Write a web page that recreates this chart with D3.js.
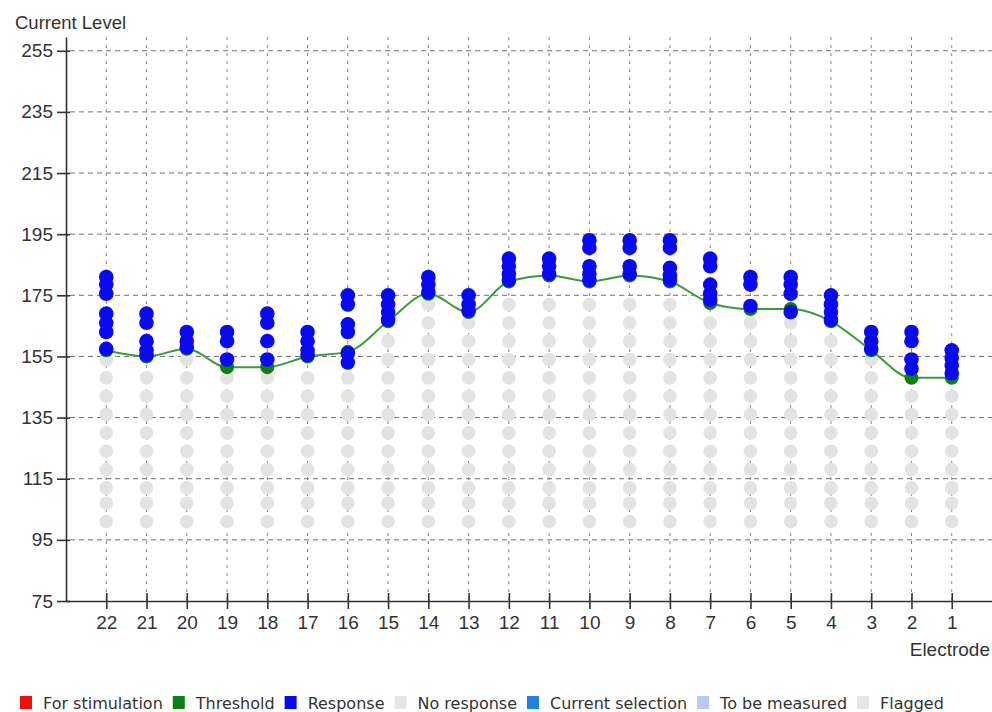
<!DOCTYPE html>
<html>
<head>
<meta charset="utf-8">
<script src="https://cdn.jsdelivr.net/npm/d3@7"></script>
<style>
  body { margin: 0; background: #fff; }
  svg { display: block; }
</style>
</head>
<body>
<div id="chart"></div>
<script>
// electrodes run 22 -> 1 from left to right
const ELECTRODES = [22, 21, 20, 19, 18, 17, 16, 15, 14, 13, 12, 11, 10, 9, 8, 7, 6, 5, 4, 3, 2, 1]
// threshold current level per electrode (green)
const THRESHOLDS = [157, 155, 157.5, 151.5, 151.5, 155, 156.5, 166.5, 175.5, 169.5, 179.5, 181.5, 179.5, 181.5, 179.5, 172.5, 170.5, 170.5, 166.5, 157, 148, 148]
// levels that gave a response (blue), same order as ELECTRODES
const RESPONSES = [
    [157.5, 163, 166, 169, 175.5, 178.5, 181],
    [155.5, 157, 160, 166, 169],
    [158, 160, 163],
    [154, 160, 163],
    [154, 160, 166, 169],
    [155.5, 157, 160, 163],
    [153, 156, 163, 165.5, 172, 175],
    [167, 169.5, 172, 175],
    [176, 178.5, 181],
    [170, 172, 175],
    [180, 182, 184.5, 187],
    [182, 184.5, 187],
    [180, 182, 184.5, 190.5, 193],
    [182, 184.5, 190.5, 193],
    [180, 181.5, 184, 190.5, 193],
    [173.5, 175.5, 178.5, 184.5, 187],
    [171.5, 178.5, 181],
    [169.5, 175.5, 178.5, 181],
    [167, 169.5, 172, 175],
    [157.5, 160, 163],
    [151, 154, 160, 163],
    [149.5, 152, 154.5, 157]
]
// levels stepped through without response (light grey), shown below each threshold
const NO_RESPONSE_LEVELS = [101, 107, 112, 118, 124, 130, 136, 142, 148, 154, 160, 166, 172]
const Y_TICKS = [75, 95, 115, 135, 155, 175, 195, 215, 235, 255]
const LEGEND = [
    { label: "For stimulation", color: "#f20d0d" },
    { label: "Threshold", color: "#0f7f14" },
    { label: "Response", color: "#0a0af0" },
    { label: "No response", color: "#e6e6e6" },
    { label: "Current selection", color: "#1f82e0" },
    { label: "To be measured", color: "#b4ccf0" },
    { label: "Flagged", color: "#e6e6e6" }
]

const width = 992, height = 712
const axisFont = "'Liberation Sans', Arial, sans-serif"

const svg = d3.select("#chart").append("svg")
    .attr("width", width)
    .attr("height", height)

const x = d3.scalePoint()
    .domain(ELECTRODES)
    .range([66, 992])
    .padding(1)

const y = d3.scaleLinear()
    .domain([75, 259.5])
    .range([601, 37])

// grid
const grid = svg.append("g")
grid.selectAll(".hgrid")
    .data(Y_TICKS.filter(d => d !== 75))
    .enter().append("line")
    .attr("x1", 70).attr("x2", width)
    .attr("y1", d => y(d)).attr("y2", d => y(d))
    .attr("stroke", "#707070")
    .attr("stroke-dasharray", "5,4")
grid.selectAll(".vgrid")
    .data(ELECTRODES)
    .enter().append("line")
    .attr("x1", d => x(d)).attr("x2", d => x(d))
    .attr("y1", y(259.5)).attr("y2", y(75))
    .attr("stroke", "#858585")
    .attr("stroke-dasharray", "3,5")

const rows = ELECTRODES.map((e, i) => ({
    electrode: e,
    threshold: THRESHOLDS[i],
    responses: RESPONSES[i],
    none: NO_RESPONSE_LEVELS.filter(l => l <= THRESHOLDS[i] - 3)
}))

// no response dots
svg.append("g").selectAll("circle")
    .data(rows.flatMap(r => r.none.map(v => ({ e: r.electrode, v }))))
    .enter().append("circle")
    .attr("cx", d => x(d.e))
    .attr("cy", d => y(d.v))
    .attr("r", 6.8)
    .attr("fill", "#e3e3e3")

// threshold line
const line = d3.line()
    .x(d => x(d.electrode))
    .y(d => y(d.threshold))
    .curve(d3.curveMonotoneX)

svg.append("path")
    .datum(rows)
    .attr("d", line)
    .attr("fill", "none")
    .attr("stroke", "#3c9a3c")
    .attr("stroke-width", 2)

svg.append("g").selectAll("circle")
    .data(rows)
    .enter().append("circle")
    .attr("cx", d => x(d.electrode))
    .attr("cy", d => y(d.threshold))
    .attr("r", 7)
    .attr("fill", "#0f7f14")

// response dots
svg.append("g").selectAll("circle")
    .data(rows.flatMap(r => r.responses.map(v => ({ e: r.electrode, v }))))
    .enter().append("circle")
    .attr("cx", d => x(d.e))
    .attr("cy", d => y(d.v))
    .attr("r", 7.3)
    .attr("fill", "#0a0af0")

// axes
const yAxis = svg.append("g")
    .attr("transform", "translate(66,0)")
    .call(d3.axisLeft(y).tickValues(Y_TICKS).tickSize(9).tickSizeOuter(0).tickPadding(4))
yAxis.selectAll(".tick line").attr("x1", 4)

const xAxis = svg.append("g")
    .attr("transform", "translate(0,601)")
    .call(d3.axisBottom(x).tickSize(8).tickSizeOuter(0).tickPadding(7))
xAxis.selectAll(".tick line").attr("y1", -8)

svg.selectAll(".domain").attr("stroke", "#333").attr("stroke-width", 1.6)
svg.selectAll(".tick line").attr("stroke", "#333").attr("stroke-width", 1.6)
svg.selectAll(".tick text")
    .attr("fill", "#333")
    .style("font-family", axisFont)
    .style("font-size", "19px")

svg.append("text")
    .attr("x", 15).attr("y", 29)
    .attr("fill", "#333")
    .style("font-family", axisFont)
    .style("font-size", "18.5px")
    .text("Current Level")

svg.append("text")
    .attr("x", 990).attr("y", 656)
    .attr("text-anchor", "end")
    .attr("fill", "#333")
    .style("font-family", axisFont)
    .style("font-size", "19px")
    .text("Electrode")

// legend, laid out left to right
const legend = svg.append("g")
let lx = 20
LEGEND.forEach(item => {
    legend.append("rect")
        .attr("x", lx).attr("y", 696)
        .attr("width", 12).attr("height", 13)
        .attr("fill", item.color)
    const t = legend.append("text")
        .attr("x", lx + 23).attr("y", 709)
        .attr("fill", "#333")
        .style("font-family", "'DejaVu Sans', Verdana, sans-serif")
        .style("font-size", "16px")
        .text(item.label)
    lx += 23 + t.node().getComputedTextLength() + 10
})
</script>
</body>
</html>
